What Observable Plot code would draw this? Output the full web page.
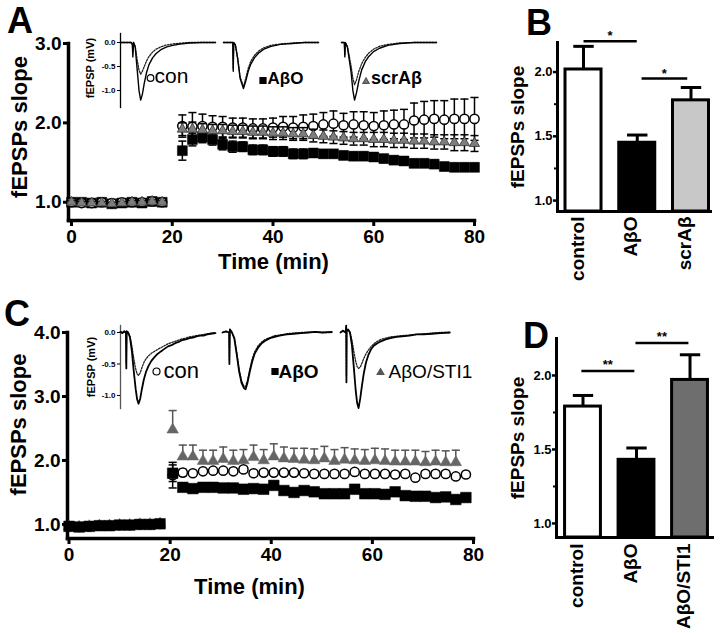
<!DOCTYPE html>
<html><head><meta charset="utf-8">
<script src="https://cdn.jsdelivr.net/npm/d3@7"></script>
<script src="https://cdn.jsdelivr.net/npm/@observablehq/plot@0.6"></script>
<style>
body{margin:0;background:#fff;}
#fig{position:relative;width:720px;height:633px;background:#fff;overflow:hidden;font-family:"Liberation Sans",Arial,Helvetica,sans-serif;}
.letter{position:absolute;font-weight:bold;font-size:36px;line-height:1;}
</style></head><body><div id="fig"></div>
<script>
// ---------------- DATA ----------------
// Panel A (time course)
const timeA = [0,2,4,6,8,10,12,14,16,18,22,24,26,28,30,32,34,36,38,40,42,44,46,48,50,52,54,56,58,60,62,64,66,68,70,72,74,76,78,80];
const ctrlA = [1.00,0.99,0.99,1.00,0.99,1.00,1.00,1.00,1.01,1.00,
  1.96,1.95,1.96,1.95,1.95,1.94,1.94,1.93,1.93,1.94,1.95,1.94,1.95,1.96,1.98,1.99,1.97,1.98,1.97,1.96,1.97,1.98,1.98,2.03,2.04,2.05,2.04,2.05,2.05,2.05];
const ctrlAErr = [0.02,0.02,0.02,0.02,0.02,0.02,0.02,0.02,0.02,0.02,
  0.14,0.18,0.15,0.14,0.13,0.12,0.12,0.12,0.12,0.12,0.13,0.14,0.15,0.15,0.15,0.16,0.15,0.16,0.17,0.17,0.18,0.18,0.19,0.22,0.23,0.23,0.24,0.25,0.25,0.27];
const aboA = [1.00,1.00,0.99,1.00,0.98,0.99,1.00,0.99,1.01,1.00,
  1.65,1.79,1.82,1.79,1.73,1.70,1.70,1.66,1.66,1.64,1.64,1.61,1.61,1.62,1.61,1.61,1.59,1.58,1.58,1.57,1.55,1.53,1.52,1.49,1.49,1.48,1.45,1.44,1.44,1.44];
const aboAErr = [0.02,0.02,0.02,0.02,0.02,0.02,0.02,0.02,0.02,0.02,
  0.12,0.08,0.07,0.07,0.07,0.07,0.06,0.06,0.06,0.06,0.06,0.06,0.06,0.05,0.05,0.05,0.05,0.05,0.05,0.05,0.05,0.05,0.05,0.05,0.05,0.05,0.05,0.05,0.05,0.05];
const scrA = [1.00,0.99,0.99,0.99,0.98,0.99,1.00,1.00,1.01,1.00,
  1.92,1.92,1.91,1.90,1.90,1.89,1.89,1.88,1.88,1.87,1.87,1.86,1.86,1.84,1.83,1.82,1.81,1.80,1.80,1.79,1.79,1.78,1.78,1.77,1.77,1.76,1.76,1.75,1.75,1.74];
const scrAErr = [0.02,0.02,0.02,0.02,0.02,0.02,0.02,0.02,0.02,0.02,
  0.08,0.09,0.08,0.08,0.08,0.08,0.08,0.08,0.08,0.08,0.08,0.08,0.08,0.08,0.08,0.08,0.08,0.08,0.08,0.09,0.09,0.09,0.09,0.09,0.09,0.09,0.09,0.10,0.10,0.10];

// Panel C (time course)
const timeC = [0,2,4,6,8,10,12,14,16,18,20.5,22.5,24.5,26.5,28.5,30.5,32.5,34.5,36.5,38.5,40.5,42.5,44.5,46.5,48.5,50.5,52.5,54.5,56.5,58.5,60.5,62.5,64.5,66.5,68.5,70.5,72.5,74.5,76.5,78.5];
const ctrlC = [0.97,0.96,0.97,0.98,0.98,0.99,0.99,1.00,1.00,1.01,
  1.77,1.81,1.80,1.83,1.84,1.84,1.83,1.86,1.80,1.81,1.81,1.81,1.81,1.80,1.79,1.79,1.79,1.79,1.82,1.79,1.79,1.79,1.78,1.79,1.73,1.79,1.79,1.79,1.75,1.78];
const ctrlCErr = [0.02,0.02,0.02,0.02,0.02,0.02,0.02,0.02,0.02,0.02,
  0.20,0.05,0.04,0.04,0.04,0.04,0.04,0.04,0.04,0.04,0.04,0.04,0.04,0.04,0.04,0.04,0.04,0.04,0.04,0.04,0.04,0.04,0.04,0.04,0.04,0.04,0.04,0.04,0.04,0.04];
const aboC = [0.97,0.96,0.97,0.98,0.98,0.99,0.99,1.00,1.00,1.01,
  1.80,1.58,1.56,1.58,1.58,1.57,1.57,1.55,1.56,1.55,1.61,1.53,1.50,1.53,1.51,1.48,1.48,1.48,1.55,1.48,1.48,1.47,1.51,1.45,1.44,1.44,1.42,1.43,1.39,1.42];
const aboCErr = [0.02,0.02,0.02,0.02,0.02,0.02,0.02,0.02,0.02,0.02,
  0.13,0.03,0.03,0.03,0.03,0.03,0.03,0.03,0.05,0.03,0.03,0.03,0.03,0.03,0.03,0.03,0.03,0.03,0.03,0.03,0.03,0.03,0.03,0.03,0.03,0.03,0.03,0.03,0.03,0.03];
const timeSti = [0,2,4,6,8,10,12,14,16,18,20.5,22.5,24.5,26.5,28.5,30.5,32.5,34.5,36.5,38.5,40.5,42.5,44.5,46.5,48.5,50.5,52.5,54.5,56.5,58.5,60.5,62.5,64.5,66.5,68.5,70.5,72.5,74.5,76.5];
const stiC = [0.97,0.96,0.97,0.98,0.98,0.99,0.99,1.00,1.00,1.01,
  2.48,2.06,2.06,1.99,1.99,2.02,1.99,2.00,2.05,2.00,2.06,2.03,2.02,2.01,2.00,2.03,1.99,2.01,2.00,1.99,2.00,1.99,1.98,1.98,1.98,1.97,1.98,1.97,1.97];
const stiCErr = [0.02,0.02,0.02,0.02,0.02,0.02,0.02,0.02,0.02,0.02,
  0.30,0.18,0.18,0.17,0.17,0.19,0.17,0.17,0.19,0.17,0.20,0.18,0.17,0.18,0.18,0.19,0.18,0.19,0.18,0.18,0.19,0.19,0.18,0.18,0.18,0.17,0.18,0.18,0.19];

const timeTicks = [0,20,40,60,80];
const yTicksA = [1,2,3];
const yTicksC = [1,2,3,4];

// Panel B and D (bars)
const barCatsB = ["control","AβO","scrAβ"];
const barValsB = [2.02,1.45,1.78];
const barErrB  = [0.18,0.06,0.10];
const barFillB = ["#ffffff","#000000","#c8c8c8"];
const sigFromB = [0.0,1.08], sigToB = [0.99,1.93], sigLevelB = [2.24,1.95], sigLabelB = ["*","*"];

const barCatsD = ["control","AβO","AβO/STI1"];
const barValsD = [1.79,1.43,1.97];
const barErrD  = [0.075,0.08,0.17];
const barFillD = ["#ffffff","#000000","#6e6e6e"];
const sigFromD = [-0.03,0.98], sigToD = [0.96,1.97], sigLevelD = [2.03,2.22], sigLabelD = ["**","**"];
const barTicks = [1.0,1.5,2.0];
const barMinorTicks = [1.25,1.75];

// Inset traces (ms, mV)
const a1T = [0,4.6,5.0,5.2,5.5,6.2,7.0,7.8,8.5,9.2,10.0,11.0,12.0,13.5,15.0,17.0,19.5,22.0,25.0,29.0,34.0,40.0];
const a1Solid = [0,0,-0.05,-0.3,0,-0.1,-0.55,-1.0,-1.2,-1.08,-0.85,-0.62,-0.46,-0.32,-0.23,-0.15,-0.09,-0.06,-0.03,-0.01,0,0];
const a1Dot = [0,0,-0.03,-0.2,0,-0.08,-0.35,-0.58,-0.66,-0.6,-0.5,-0.38,-0.29,-0.2,-0.14,-0.09,-0.05,-0.03,-0.015,0,0,0];
const a2T = [0,3.9,4.1,4.3,5.0,6.0,7.0,8.4,9.4,10.4,11.5,13,15,17,20,24,29,34,40];
const a2Solid = [0,0,-0.6,0,-0.05,-0.35,-0.75,-0.96,-0.8,-0.6,-0.45,-0.32,-0.21,-0.14,-0.08,-0.04,-0.02,0,0];
const a2Dot = [0,0,-0.55,0,-0.05,-0.33,-0.72,-0.92,-0.74,-0.54,-0.39,-0.27,-0.17,-0.11,-0.06,-0.03,-0.01,0,0];
const a3T = [0,1.2,1.4,1.6,2.5,4.0,4.8,5.5,6.3,7.3,8.5,10,11.5,13.5,16,19.5,24.5,30.5,40];
const a3Solid = [0,0,-0.3,0,-0.1,-0.6,-1.0,-1.2,-1.05,-0.8,-0.57,-0.4,-0.29,-0.19,-0.12,-0.06,-0.02,0,0];
const a3Dot = [0,0,-0.25,0,-0.08,-0.48,-0.75,-0.88,-0.78,-0.6,-0.44,-0.31,-0.22,-0.14,-0.08,-0.04,-0.01,0,0];
const c1T = [0,0.8,1.6,2.3,2.45,2.6,3.2,4.0,4.8,5.6,6.4,7.0,7.6,8.3,9.0,9.8,10.7,11.8,13,14.3,15.6,17,18.5,20,21.5,23,24.5,26,27.5,29,30.5,32,33.5,35,36.5,38,40];
const c1Solid = [0.01,-0.01,0.02,0.0,-0.57,0.02,0.0,-0.08,-0.3,-0.62,-0.9,-1.06,-1.13,-1.05,-0.9,-0.75,-0.63,-0.53,-0.45,-0.39,-0.34,-0.3,-0.26,-0.22,-0.2,-0.17,-0.15,-0.12,-0.11,-0.09,-0.08,-0.06,-0.05,-0.05,-0.03,-0.02,-0.01];
const c1Dot = [0.01,0.0,0.01,0.0,-0.5,0.01,0.0,-0.06,-0.22,-0.42,-0.58,-0.66,-0.68,-0.64,-0.56,-0.48,-0.42,-0.37,-0.33,-0.3,-0.27,-0.24,-0.21,-0.18,-0.16,-0.14,-0.12,-0.1,-0.09,-0.07,-0.06,-0.05,-0.04,-0.03,-0.02,-0.01,0.0];
const c2T = [0,1.5,2.8,2.9,3.1,4.0,5.0,6.0,7.0,8.0,9.0,9.7,10.5,11.5,12.5,13.5,15,16.5,18,20,22,24,27,30,33,36,39,42,46];
const c2Solid = [0,0.02,0,-0.5,0.05,0.0,-0.1,-0.35,-0.62,-0.8,-0.88,-0.9,-0.8,-0.62,-0.46,-0.34,-0.24,-0.17,-0.13,-0.09,-0.07,-0.05,-0.03,-0.02,-0.01,0.0,0.01,0.0,0.01];
const c2Dot = [0,0.01,0,-0.45,0.04,0.0,-0.08,-0.32,-0.58,-0.76,-0.85,-0.86,-0.76,-0.58,-0.42,-0.31,-0.21,-0.15,-0.11,-0.08,-0.05,-0.04,-0.02,-0.01,0.0,0.0,0.01,0.0,0.0];
const c3T = [0,1.0,2.2,2.4,2.5,2.6,3.2,4.0,4.8,5.6,6.4,7.0,7.6,8.3,9.0,9.8,10.7,11.7,12.8,14,15.5,17,19,21,23.5,26,29,32,35,38.5,42,46];
const c3Solid = [0,0.03,0,0.11,-0.79,0.02,0.05,0.0,-0.2,-0.55,-0.92,-1.12,-1.2,-1.05,-0.85,-0.65,-0.48,-0.36,-0.27,-0.21,-0.17,-0.14,-0.11,-0.09,-0.07,-0.06,-0.05,-0.03,-0.03,-0.02,-0.01,0.0];
const c3Dot = [0,0.02,0,0.1,-0.7,0.02,0.04,0.0,-0.12,-0.3,-0.46,-0.54,-0.57,-0.55,-0.49,-0.41,-0.34,-0.28,-0.23,-0.18,-0.14,-0.11,-0.09,-0.07,-0.06,-0.05,-0.04,-0.03,-0.02,-0.01,0.0,0.0];
const insetTicks = [0,-0.5,-1.0];

// ---------------- DRAWING ----------------
const FONT = '"Liberation Sans", Arial, Helvetica, sans-serif';
const fig = document.getElementById("fig");
function place(svg, left, top) {
  svg.style.position = "absolute";
  svg.style.left = left + "px";
  svg.style.top = top + "px";
  fig.appendChild(svg);
}
const rowsOf = (ts, vs, es) => ts.map((t, i) => ({t, v: vs[i], e: es ? es[i] : 0}));
const fmt1 = d => d.toFixed(1);

function seriesMarks(rows, o) {
  const m = [];
  const cap = o.cap;
  m.push(Plot.ruleX(rows, {x: "t", y1: d => o.both ? d.v - d.e : d.v, y2: d => d.v + d.e, stroke: o.errStroke, strokeWidth: 1.5}));
  m.push(Plot.link(rows, {x1: d => d.t - cap, x2: d => d.t + cap, y1: d => d.v + d.e, y2: d => d.v + d.e, stroke: o.errStroke, strokeWidth: 1.5}));
  if (o.both) m.push(Plot.link(rows, {x1: d => d.t - cap, x2: d => d.t + cap, y1: d => d.v - d.e, y2: d => d.v - d.e, stroke: o.errStroke, strokeWidth: 1.5}));
  m.push(Plot.dot(rows, {x: "t", y: "v", symbol: o.symbol, r: o.r, fill: o.fill, stroke: o.stroke, strokeWidth: o.sw}));
  return m;
}

function timePlot(c) {
  const marks = [
    Plot.frame({anchor: "left", strokeWidth: 3.5}),
    Plot.frame({anchor: "bottom", strokeWidth: 3.5}),
    Plot.axisY({ticks: c.yTicks, tickFormat: fmt1, tickSize: 5, tickPadding: 2, strokeWidth: 3, fontSize: 19, fontWeight: "bold", label: null}),
    Plot.axisX({ticks: timeTicks, tickFormat: d => String(d), tickSize: 6, tickPadding: 3, strokeWidth: 3, fontSize: 19, fontWeight: "bold", label: null}),
    Plot.text(["fEPSPs slope"], {frameAnchor: "left", textAnchor: "middle", rotate: -90, dx: c.ylabDx, dy: c.ylabDy, fontSize: 22, fontWeight: "bold"}),
    Plot.text(["Time (min)"], {frameAnchor: "bottom", textAnchor: "middle", dx: c.xlabDx, dy: c.xlabDy, fontSize: 22, fontWeight: "bold"}),
    ...c.series.flatMap(s => seriesMarks(s.rows, s))
  ];
  const svg = Plot.plot({
    width: c.width, height: c.height,
    marginTop: c.mT, marginBottom: c.mB, marginLeft: c.mL, marginRight: c.mR,
    x: {domain: c.xDomain}, y: {domain: c.yDomain},
    style: {background: "transparent", fontFamily: FONT, fontWeight: "bold", overflow: "visible"},
    marks
  });
  place(svg, c.left, c.top);
}

function barPlot(c) {
  const rows = c.cats.map((cat, i) => ({i, cat, v: c.vals[i], e: c.errs[i], fill: c.fills[i]}));
  const sig = c.sigFrom.map((f, i) => ({f, t: c.sigTo[i], y: c.sigLevel[i], label: c.sigLabel[i]}));
  const yMin = c.yDomain[0];
  const marks = [
    Plot.rect(rows, {x1: d => d.i - 0.335, x2: d => d.i + 0.335, y1: d => yMin, y2: "v", fill: "fill", stroke: "black", strokeWidth: 3}),
    Plot.ruleX(rows, {x: "i", y1: "v", y2: d => d.v + d.e, strokeWidth: 3}),
    Plot.link(rows, {x1: d => d.i - 0.19, x2: d => d.i + 0.19, y1: d => d.v + d.e, y2: d => d.v + d.e, strokeWidth: 3}),
    Plot.frame({anchor: "left", strokeWidth: 3}),
    Plot.frame({anchor: "bottom", strokeWidth: 3}),
    Plot.axisY({ticks: barTicks, tickFormat: fmt1, tickSize: 4, tickPadding: 1, strokeWidth: 2.5, fontSize: 13, fontWeight: "bold", label: null}),
    Plot.axisY({ticks: barMinorTicks, tickFormat: () => "", tickSize: 3, strokeWidth: 2, label: null}),
    Plot.text(rows, {x: "i", text: "cat", frameAnchor: "bottom", rotate: -90, textAnchor: "end", dy: c.catDy, fontSize: 19, fontWeight: "bold"}),
    Plot.text(["fEPSPs slope"], {frameAnchor: "left", textAnchor: "middle", rotate: -90, dx: c.ylabDx, dy: c.ylabDy, fontSize: 19, fontWeight: "bold"}),
    Plot.link(sig, {x1: "f", x2: "t", y1: "y", y2: "y", strokeWidth: 2.5}),
    Plot.text(sig, {x: d => (d.f + d.t) / 2, y: "y", text: "label", dy: c.starDy, fontSize: 13, fontWeight: "bold"})
  ];
  const svg = Plot.plot({
    width: c.width, height: c.height,
    marginTop: c.mT, marginBottom: c.mB, marginLeft: c.mL, marginRight: c.mR,
    x: {domain: c.xDomain, axis: null}, y: {domain: c.yDomain},
    color: {type: "identity"},
    style: {background: "transparent", fontFamily: FONT, fontWeight: "bold", overflow: "visible"},
    marks
  });
  place(svg, c.left, c.top);
}

function insetPlot(c) {
  const mL = c.axis ? 45 : 4, mR = 45, mT = 4, mB = 4;
  const marks = [];
  if (c.axis) {
    marks.push(Plot.frame({anchor: "left", strokeWidth: 1.3, stroke: c.axisColor}));
    marks.push(Plot.axisY({ticks: insetTicks, tickFormat: fmt1, tickSize: 3, tickPadding: 2, strokeWidth: 1, fontSize: 8, fontWeight: "bold", label: null}));
    marks.push(Plot.text(["fEPSP (mV)"], {frameAnchor: "left", textAnchor: "middle", rotate: -90, dx: c.labDx, dy: c.labDy, fontSize: 11, fontWeight: "bold"}));
  }
  marks.push(Plot.line(rowsOf(c.t, c.dot), {x: "t", y: "v", stroke: "#222", strokeWidth: 1.3, strokeDasharray: "1.6,1.4"}));
  marks.push(Plot.line(rowsOf(c.t, c.solid), {x: "t", y: "v", stroke: "#000", strokeWidth: c.lw}));
  const L = c.legend;
  marks.push(Plot.dot([L.text], {frameAnchor: "top-left", dx: L.sx, dy: L.sy, symbol: L.symbol, r: L.r, fill: L.fill, stroke: L.stroke, strokeWidth: 1.2}));
  marks.push(Plot.text([L.text], {frameAnchor: "top-left", dx: L.tx, dy: L.ty, textAnchor: "start", lineAnchor: "middle", fontSize: L.size, fontWeight: L.weight}));
  const svg = Plot.plot({
    width: mL + c.w + mR, height: mT + c.h + mB,
    marginTop: mT, marginBottom: mB, marginLeft: mL, marginRight: mR,
    x: {domain: c.xDomain, axis: null}, y: {domain: c.yDomain, axis: c.axis ? undefined : null},
    style: {background: "transparent", fontFamily: FONT, overflow: "visible"},
    marks
  });
  place(svg, c.x0 - mL, c.y0 - mT);
}

// Panel A
timePlot({
  left: 0, top: 0, width: 520, height: 300, mT: 43, mB: 80, mL: 68, mR: 46,
  xDomain: [-0.6, 80], yDomain: [0.77, 3.0], yTicks: yTicksA,
  ylabDx: -49, ylabDy: -5, xlabDx: 2, xlabDy: 48,
  series: [
    {rows: rowsOf(timeA, aboA, aboAErr), symbol: "square", r: 5.6, fill: "#000", stroke: "#000", sw: 0.5, errStroke: "#000", both: true, cap: 0.8},
    {rows: rowsOf(timeA, ctrlA, ctrlAErr), symbol: "circle", r: 4.6, fill: "#fff", stroke: "#000", sw: 1.5, errStroke: "#000", both: true, cap: 0.8},
    {rows: rowsOf(timeA, scrA, scrAErr), symbol: "triangle", r: 3.8, fill: "#7d7d7d", stroke: "#333", sw: 0.8, errStroke: "#000", both: true, cap: 0.8}
  ]
});
// Panel C
timePlot({
  left: 0, top: 310, width: 520, height: 323, mT: 22, mB: 95, mL: 67, mR: 47,
  xDomain: [-0.3, 80], yDomain: [0.78, 4.0], yTicks: yTicksC,
  ylabDx: -49, ylabDy: -11, xlabDx: -21, xlabDy: 55,
  series: [
    {rows: rowsOf(timeC, ctrlC, ctrlCErr), symbol: "circle", r: 4.6, fill: "#fff", stroke: "#000", sw: 1.5, errStroke: "#000", both: true, cap: 0.8},
    {rows: rowsOf(timeSti, stiC, stiCErr), symbol: "triangle", r: 4.3, fill: "#666", stroke: "#666", sw: 0.5, errStroke: "#555", both: false, cap: 0.8},
    {rows: rowsOf(timeC, aboC, aboCErr), symbol: "square", r: 6, fill: "#000", stroke: "#000", sw: 0.5, errStroke: "#000", both: true, cap: 0.8}
  ]
});
// Panel B
barPlot({
  left: 500, top: 0, width: 220, height: 300, mT: 42, mB: 89, mL: 57, mR: 10,
  xDomain: [-0.484, 2.363], yDomain: [0.915, 2.23],
  cats: barCatsB, vals: barValsB, errs: barErrB, fills: barFillB,
  sigFrom: sigFromB, sigTo: sigToB, sigLevel: sigLevelB, sigLabel: sigLabelB,
  catDy: 5, ylabDx: -40, ylabDy: 0, starDy: -5
});
// Panel D
barPlot({
  left: 500, top: 310, width: 220, height: 323, mT: 28, mB: 96, mL: 56, mR: 8,
  xDomain: [-0.495, 2.42], yDomain: [0.905, 2.25],
  cats: barCatsD, vals: barValsD, errs: barErrD, fills: barFillD,
  sigFrom: sigFromD, sigTo: sigToD, sigLevel: sigLevelD, sigLabel: sigLabelD,
  catDy: 6, ylabDx: -39, ylabDy: 0, starDy: -6
});

// Insets A
const yDomA = [-1.354, 0.1875], yDomC = [-1.206, 0.111];
insetPlot({x0: 120, y0: 33, w: 95, h: 74, xDomain: [0, 40], yDomain: yDomA, axis: true, axisColor: "#000", labDx: -30, labDy: -2.5,
  t: a1T, solid: a1Solid, dot: a1Dot, lw: 1.4,
  legend: {symbol: "circle", r: 3.3, fill: "#fff", stroke: "#000", sx: 30, sy: 44.5, text: "con", tx: 34, ty: 43, size: 21, weight: "normal"}});
insetPlot({x0: 223, y0: 33, w: 95, h: 74, xDomain: [0, 40], yDomain: yDomA, axis: false,
  t: a2T, solid: a2Solid, dot: a2Dot, lw: 1.4,
  legend: {symbol: "square", r: 3.4, fill: "#000", stroke: "#000", sx: 39.5, sy: 47, text: "AβO", tx: 44, ty: 44.6, size: 17, weight: "bold"}});
insetPlot({x0: 341, y0: 33, w: 95, h: 74, xDomain: [0, 40], yDomain: yDomA, axis: false,
  t: a3T, solid: a3Solid, dot: a3Dot, lw: 1.4,
  legend: {symbol: "triangle", r: 2.3, fill: "#777", stroke: "#555", sx: 24.5, sy: 48, text: "scrAβ", tx: 29.5, ty: 44.6, size: 18, weight: "bold"}});
// Insets C
insetPlot({x0: 120, y0: 325, w: 95, h: 83, xDomain: [0, 40], yDomain: yDomC, axis: true, axisColor: "#555", labDx: -29, labDy: 0,
  t: c1T, solid: c1Solid, dot: c1Dot, lw: 1.8,
  legend: {symbol: "circle", r: 3.5, fill: "#fff", stroke: "#000", sx: 36, sy: 46, text: "con", tx: 43, ty: 45, size: 22, weight: "normal"}});
insetPlot({x0: 222, y0: 325, w: 110, h: 83, xDomain: [0, 46.3], yDomain: yDomC, axis: false,
  t: c2T, solid: c2Solid, dot: c2Dot, lw: 1.8,
  legend: {symbol: "square", r: 3.4, fill: "#000", stroke: "#000", sx: 52.5, sy: 46, text: "AβO", tx: 56, ty: 46, size: 19, weight: "bold"}});
insetPlot({x0: 340, y0: 325, w: 110, h: 83, xDomain: [0, 46.3], yDomain: yDomC, axis: false,
  t: c3T, solid: c3Solid, dot: c3Dot, lw: 1.8,
  legend: {symbol: "triangle", r: 2.5, fill: "#555", stroke: "#555", sx: 40, sy: 47, text: "AβO/STI1", tx: 48, ty: 46, size: 19, weight: "normal"}});

// Panel letters
[["A", 7, 3], ["B", 526, 5], ["C", 4, 296], ["D", 523, 318]].forEach(([t, x, y]) => {
  const d = document.createElement("div");
  d.className = "letter"; d.textContent = t;
  d.style.left = x + "px"; d.style.top = y + "px";
  fig.appendChild(d);
});
</script>
</body></html>
